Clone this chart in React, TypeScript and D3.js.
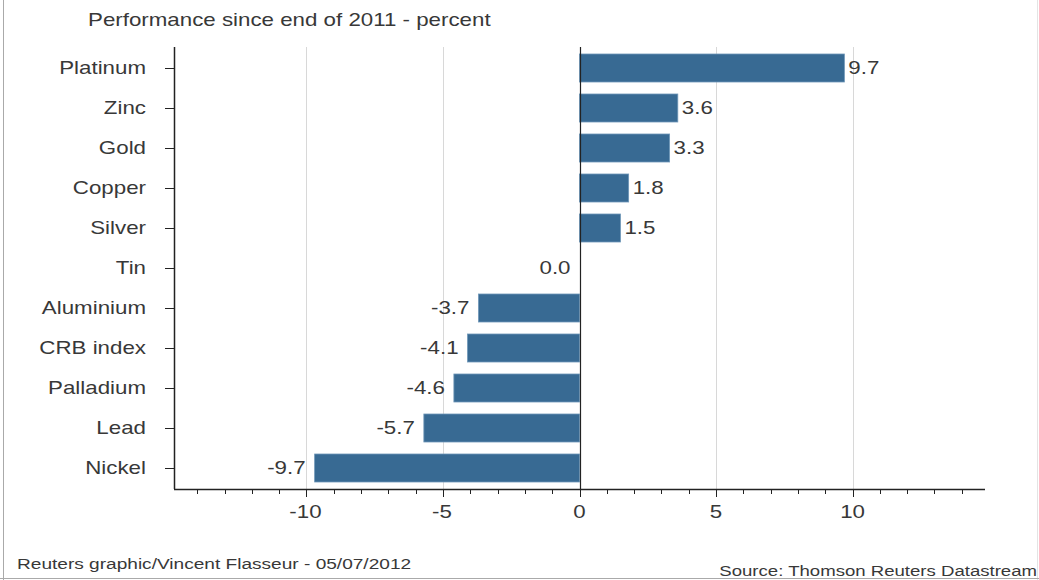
import React from "react";
import * as d3 from "d3";

const categories = ["Platinum", "Zinc", "Gold", "Copper", "Silver", "Tin", "Aluminium", "CRB index", "Palladium", "Lead", "Nickel"];
const values = [9.7, 3.6, 3.3, 1.8, 1.5, 0.0, -3.7, -4.1, -4.6, -5.7, -9.7];
const majorTicks = [-10, -5, 0, 5, 10];
const minorTicks = d3.range(-14, 15, 1);
const titleText = "Performance since end of 2011 - percent";
const footLeft = "Reuters graphic/Vincent Flasseur - 05/07/2012";
const footRight = "Source: Thomson Reuters Datastream";

const W = 1039, H = 580;
const left = 174, right = 985, top = 47, bottom = 489;
const FONT = "'Liberation Sans', Arial, sans-serif";
const TXT = "#383838";
const SX = 1.24;

function T({ x, y, size, anchor = "start", children, dy }: { x: number; y: number; size: number; anchor?: string; children: any; dy?: string }) {
  return (
    <text transform={`translate(${x},${y}) scale(${SX},1)`} dy={dy} fontSize={size} textAnchor={anchor} fill={TXT}>
      {children}
    </text>
  );
}

export default function App() {
  const x = d3.scaleLinear().domain([-14.85, 14.85]).range([left, right]);
  const y = d3.scaleBand<string>().domain(categories).range([top + 1, bottom - 1]).paddingInner(0.3).paddingOuter(0.15);
  const x0 = x(0);
  return (
    <svg width={W} height={H} style={{ position: "absolute", left: 0, top: 0, background: "#fff" }} fontFamily={FONT}>
      <rect x={0} y={0} width={W} height={H} fill="#fff" />
      {/* frame */}
      <line x1={3.5} x2={3.5} y1={0} y2={H} stroke="#aaa" />
      <line x1={W - 1.5} x2={W - 1.5} y1={0} y2={H} stroke="#e4e4e4" />
      <line x1={0} x2={W} y1={H - 1.5} y2={H - 1.5} stroke="#aaa" />
      <T x={88} y={26} size={18}>{titleText}</T>
      {/* grid */}
      {majorTicks.filter(t => t !== 0).map(t => (
        <line key={t} x1={Math.round(x(t)) + 0.5} x2={Math.round(x(t)) + 0.5} y1={top} y2={bottom} stroke="#d8d8d8" />
      ))}
      {/* bars */}
      {categories.map((c, i) => {
        const v = values[i];
        const xa = x(Math.min(0, v)), xb = x(Math.max(0, v));
        const yy = y(c)!;
        const cy = yy + y.bandwidth() / 2;
        return (
          <g key={c}>
            {v !== 0 && (
              <rect x={xa} y={yy} width={xb - xa} height={y.bandwidth()} fill="#386a93" stroke="#6f97b8" strokeWidth={0.8} />
            )}
            <T x={v > 0 ? xb + 4 : xa - 9} y={cy} dy="0.36em" anchor={v > 0 ? "start" : "end"} size={18}>
              {v.toFixed(1)}
            </T>
            <line x1={165} x2={left} y1={Math.round(cy) + 0.5} y2={Math.round(cy) + 0.5} stroke="#222" />
            <T x={146} y={cy} dy="0.36em" anchor="end" size={18}>{c}</T>
          </g>
        );
      })}
      {/* axes */}
      <line x1={left + 0.5} x2={left + 0.5} y1={top} y2={bottom} stroke="#222" strokeWidth={1.5} />
      <line x1={Math.round(x0) + 0.5} x2={Math.round(x0) + 0.5} y1={top} y2={bottom} stroke="#222" strokeWidth={1.2} />
      <line x1={left} x2={right} y1={bottom + 0.5} y2={bottom + 0.5} stroke="#222" strokeWidth={1.5} />
      {minorTicks.map(t => (
        <line key={"m" + t} x1={Math.round(x(t)) + 0.5} x2={Math.round(x(t)) + 0.5} y1={bottom} y2={bottom + (t % 5 === 0 ? 8 : 5)} stroke="#222" />
      ))}
      {majorTicks.map(t => (
        <T key={"t" + t} x={x(t) - (t < 0 ? 1 : 0)} y={518} anchor="middle" size={18}>{t}</T>
      ))}
      <T x={17} y={569} size={15.4}>{footLeft}</T>
      <T x={1037} y={576} size={15} anchor="end">{footRight}</T>
    </svg>
  );
}
